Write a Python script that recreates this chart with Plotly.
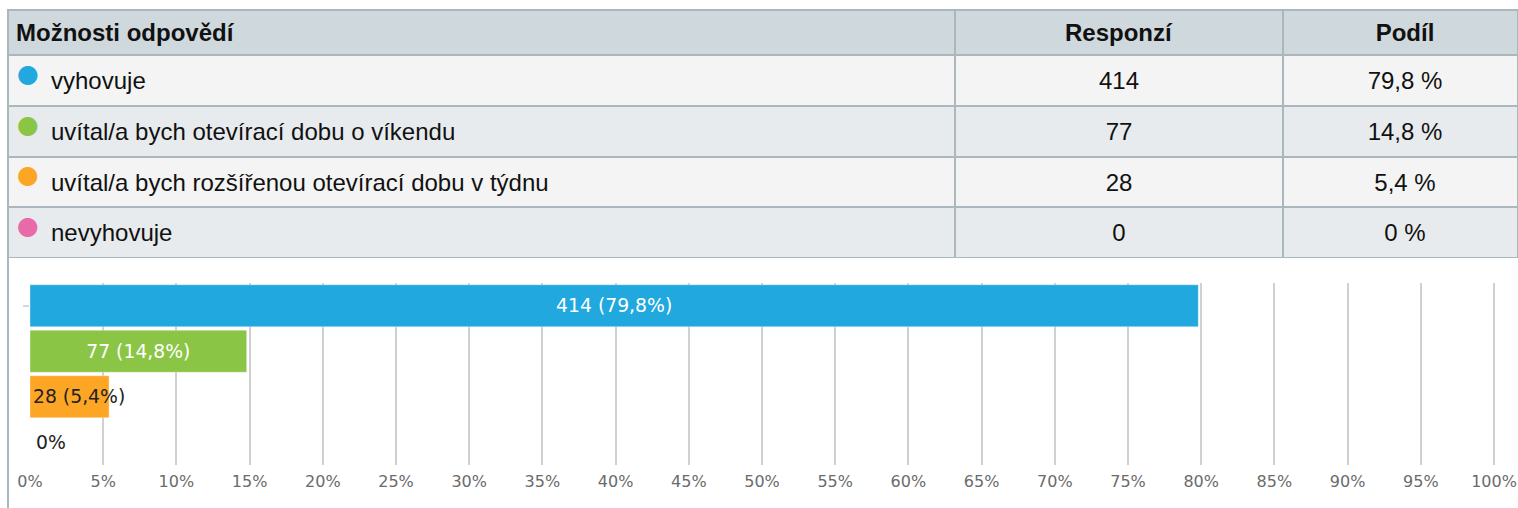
import plotly.graph_objects as go

# ---------------- data ----------------
categories = [
    "vyhovuje",
    "uvítal/a bych otevírací dobu o víkendu",
    "uvítal/a bych rozšířenou otevírací dobu v týdnu",
    "nevyhovuje",
]
responses = [414, 77, 28, 0]
shares = [79.8, 14.8, 5.4, 0.0]
colors = ["#20a8df", "#8bc546", "#fda626", "#e86aa8"]
header_labels = ["Možnosti odpovědí", "Responzí", "Podíl"]
tick_values = list(range(0, 101, 5))
tick_labels = [f"{v}%" for v in tick_values]

# ---------------- layout constants (px) ----------------
W, H = 1518, 508
TBL_X0, TBL_TOP = 8, 10
HEAD_H, ROW_H = 45, 50.75
TBL_BOTTOM = TBL_TOP + HEAD_H + ROW_H * len(categories)
HEAD_SHIFT, BODY_SHIFT = 1, 8
COL_W = [947, 328, 235]
TXT_COL_W = [947, 328, 9, 226]
LABEL_X0 = 43
PLOT_X0, PLOT_X1 = 30, 1494
X_MAX = 100.1
PLOT_TOP, PLOT_BOT = 283, 465
LINE_COL = "#aab8be"
TFONT = dict(family="Liberation Sans, Arial, sans-serif", size=24, color="#111")
CLEAR = "rgba(0,0,0,0)"


def py(v):
    return (H - v) / H


def fmt_pct(v):
    s = f"{v:.1f}".replace(".", ",")
    if s.endswith(",0"):
        s = s[:-2]
    return s


fig = go.Figure()

# ---------------- bars ----------------
bar_font = dict(family="DejaVu Sans", size=18.8)
zero_notes = []
for cat, r, s, col in zip(categories, responses, shares, colors):
    big = s >= 10
    label = f"{r} ({fmt_pct(s)}%)" if r > 0 else f"{fmt_pct(s)}%"
    fig.add_trace(go.Bar(
        y=[cat], x=[s], orientation="h",
        marker=dict(color=col, line=dict(color="rgba(255,255,255,0.35)", width=1)),
        text=[label], textposition="inside",
        insidetextanchor="middle" if big else "start",
        constraintext="none",
        insidetextfont=dict(bar_font, color="white" if big else "#222"),
        showlegend=False, hoverinfo="skip",
    ))
    if s == 0:
        zero_notes.append(dict(
            x=0, y=cat, xref="x", yref="y", xanchor="left", yanchor="middle",
            xshift=4, text=label, showarrow=False,
            font=dict(bar_font, color="#222"),
        ))

# ---------------- table: cells (fills + borders) ----------------
row_fill = ["#f4f4f4" if i % 2 == 0 else "#e8ebed" for i in range(len(categories))]
n = len(categories)
fig.add_trace(go.Table(
    domain=dict(x=[TBL_X0 / W, 1], y=[py(TBL_BOTTOM), py(TBL_TOP)]),
    columnwidth=COL_W,
    header=dict(values=["", "", ""], fill_color="#cfd8dc",
                line=dict(color=LINE_COL, width=2), height=HEAD_H, font=TFONT),
    cells=dict(values=[[""] * n] * 3, fill_color=[row_fill] * 3,
               line=dict(color=LINE_COL, width=2), height=ROW_H, font=TFONT),
))

# ---------------- table: text layers (vertically centred) ----------------
text_y = [py(TBL_BOTTOM + BODY_SHIFT), py(TBL_TOP + HEAD_SHIFT)]
text_head_h = HEAD_H + BODY_SHIFT - HEAD_SHIFT
fig.add_trace(go.Table(
    domain=dict(x=[TBL_X0 / W, 1], y=text_y),
    columnwidth=TXT_COL_W,
    header=dict(
        values=[f"<b>{header_labels[0]}</b>", f"<b>{header_labels[1]}</b>", "",
                f"<b>{header_labels[2]}</b>"],
        fill_color=CLEAR, line=dict(color=CLEAR, width=0),
        align=["left", "center", "center", "center"], font=TFONT, height=text_head_h,
    ),
    cells=dict(
        values=[
            [""] * n,
            [str(r) for r in responses],
            [""] * n,
            [f"{fmt_pct(s)} %" for s in shares],
        ],
        fill_color=CLEAR, line=dict(color=CLEAR, width=0),
        align=["left", "center", "center", "center"], font=TFONT, height=ROW_H,
    ),
))
fig.add_trace(go.Table(
    domain=dict(x=[LABEL_X0 / W, COL_W[0] / W], y=text_y),
    header=dict(values=[""], fill_color=CLEAR, line=dict(color=CLEAR, width=0),
                font=TFONT, height=text_head_h),
    cells=dict(values=[categories], fill_color=CLEAR,
               line=dict(color=CLEAR, width=0), align="left", font=TFONT,
               height=ROW_H),
))

# ---------------- coloured dots of the table (annotations sit above the table layer) ----------------
body_top = TBL_TOP + HEAD_H
annotations = []
for i, col in enumerate(colors):
    annotations.append(dict(
        x=28 / W, y=py(body_top + (i + 0.5) * ROW_H - 7),
        xref="paper", yref="paper", xanchor="center", yanchor="middle",
        text="●", showarrow=False,
        font=dict(family="DejaVu Sans", size=25, color=col),
    ))
annotations += zero_notes

x_dom_end = (PLOT_X0 + (PLOT_X1 - PLOT_X0) * X_MAX / 100) / W

fig.update_layout(
    width=W, height=H,
    margin=dict(l=0, r=0, t=0, b=0, autoexpand=False),
    paper_bgcolor="white", plot_bgcolor=CLEAR,
    barmode="relative", bargap=0.077,
    showlegend=False,
    xaxis=dict(
        domain=[PLOT_X0 / W, x_dom_end], range=[0, X_MAX],
        tickvals=tick_values, ticktext=tick_labels,
        showgrid=True, gridcolor="#d0d0d0", gridwidth=2,
        zeroline=False, showline=False, ticks="",
        ticklabelstandoff=5, ticklabeloverflow="allow",
        tickfont=dict(family="DejaVu Sans", size=16, color="#6b6b6b"),
        fixedrange=True,
    ),
    yaxis=dict(
        domain=[py(PLOT_BOT), py(PLOT_TOP)],
        categoryorder="array", categoryarray=categories,
        autorange="reversed",
        tickvals=[categories[0]], ticks="outside", ticklen=6, tickwidth=2,
        tickcolor="#c9d9e8",
        showticklabels=False, showgrid=False, zeroline=False, showline=False,
        fixedrange=True,
    ),
    annotations=annotations,
    shapes=[
        dict(type="line", xref="paper", yref="paper",
             x0=TBL_X0 / W, x1=TBL_X0 / W, y0=0, y1=py(TBL_TOP),
             line=dict(color=LINE_COL, width=2)),
    ],
)

fig.write_html(
    "out.html",
    config={"displayModeBar": False},
    post_script="document.body.style.margin='0';document.body.style.overflow='hidden';",
)
